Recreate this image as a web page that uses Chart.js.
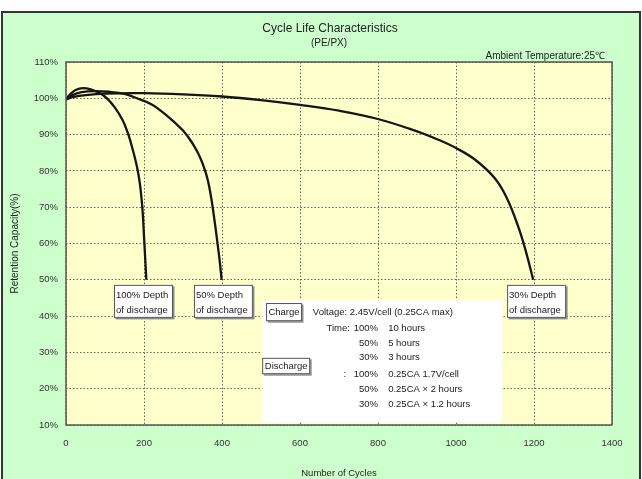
<!DOCTYPE html>
<html>
<head>
<meta charset="utf-8">
<script src="https://cdn.jsdelivr.net/npm/chart.js@4.4.1/dist/chart.umd.min.js"></script>
<style>
  html, body { margin: 0; padding: 0; background: #fff; }
</style>
</head>
<body>
<canvas id="cycleChart" width="642" height="479"></canvas>
<script>
// Curves: number of cycles vs retention capacity (%)
const cyclesDod100 = [0, 10, 25, 44, 65, 85, 105, 125, 145, 160, 170, 178, 185, 190, 194, 197, 200, 203, 206];
const retentionDod100 = [99.7, 101, 102.3, 102.8, 102.4, 101.5, 100, 97.5, 94, 90, 86.3, 83, 79.5, 76, 72, 68, 62, 56, 50];

const cyclesDod50 = [0, 15, 40, 74, 110, 150, 182, 220, 250, 280, 300, 320, 335, 345, 353, 360, 367, 374, 381, 388, 394, 399];
const retentionDod50 = [99.7, 100.8, 101.7, 102, 101.8, 101.2, 100, 98.3, 96, 93.2, 91.1, 88.3, 85.6, 83.4, 81.2, 78.9, 75.8, 71.5, 66.2, 60.5, 55.3, 50];

const cyclesDod30 = [0, 20, 50, 100, 200, 300, 400, 500, 600, 700, 800, 900, 950, 1000, 1050, 1100, 1130, 1160, 1180, 1198];
const retentionDod30 = [99.7, 100.4, 100.9, 101.3, 101.4, 101.1, 100.5, 99.5, 98.2, 96.6, 94.3, 90.9, 88.8, 86.3, 83, 77.9, 72.6, 64.5, 57.5, 50];

const depthLabels = [['100% Depth', 'of discharge'], ['50% Depth', 'of discharge'], ['30% Depth', 'of discharge']];
const infoRows = [
    ['', '', 'Voltage: 2.45V/cell (0.25CA max)'],
    ['Time:', '100%', '10 hours'],
    ['', '50%', '5 hours'],
    ['', '30%', '3 hours'],
    [':', '100%', '0.25CA 1.7V/cell'],
    ['', '50%', '0.25CA \u00d7 2 hours'],
    ['', '30%', '0.25CA \u00d7 1.2 hours']
];

const FONT = '"Liberation Sans", Arial, sans-serif';

function toPoints(xs, ys) {
    return xs.map((x, i) => ({ x: x, y: ys[i] }));
}

function noteBox(ctx, x0, y0, x1, y1) {
    ctx.fillStyle = '#8a8a8a';
    ctx.fillRect(x0 + 1.5, y0 + 1.5, x1 - x0, y1 - y0);
    ctx.fillStyle = '#ffffff';
    ctx.fillRect(x0, y0, x1 - x0, y1 - y0);
    ctx.strokeStyle = '#555';
    ctx.lineWidth = 1;
    ctx.strokeRect(x0 + 0.5, y0 + 0.5, x1 - x0 - 1, y1 - y0 - 1);
}

// Backgrounds, frame, headings and the text notes inside the plot
const decorations = {
    id: 'decorations',
    beforeDraw(chart) {
        const { ctx, chartArea: a, width, height } = chart;
        ctx.save();
        ctx.fillStyle = '#ffffff';
        ctx.fillRect(0, 0, width, height);
        ctx.fillStyle = '#ccffcc';
        ctx.fillRect(3, 13, width - 6, height - 13);
        ctx.strokeStyle = '#333';
        ctx.lineWidth = 2;
        ctx.strokeRect(2, 12, width - 4, height);
        ctx.fillStyle = '#ffffcc';
        ctx.fillRect(a.left, a.top, a.width, a.height);
        ctx.restore();
    },
    afterDatasetsDraw(chart) {
        const { ctx, chartArea: a } = chart;
        const sx = chart.scales.x, sy = chart.scales.y;
        const px = v => sx.getPixelForValue(v);
        const py = v => sy.getPixelForValue(v);
        ctx.save();

        // white panel with the test conditions
        ctx.fillStyle = '#ffffff';
        ctx.fillRect(px(503), py(44.4), px(1118) - px(503), py(10.7) - py(44.4));

        ctx.font = '9.5px ' + FONT;
        ctx.textBaseline = 'middle';

        // depth of discharge labels under each curve end
        const depthAt = [123, 328, 1131];
        depthLabels.forEach((lines, i) => {
            const x0 = px(depthAt[i]), y0 = py(48.6);
            noteBox(ctx, x0, y0, x0 + 59, y0 + 33);
            ctx.fillStyle = '#222';
            ctx.textAlign = 'left';
            ctx.fillText(lines[0], x0 + 2, y0 + 10);
            ctx.fillText(lines[1], x0 + 2, y0 + 25);
        });

        // Charge / Discharge tags
        noteBox(ctx, px(513), py(43.6), px(605), py(38.6));
        noteBox(ctx, px(503), py(28.5), px(626), py(24.0));
        ctx.fillStyle = '#222';
        ctx.textAlign = 'center';
        ctx.fillText('Charge', (px(513) + px(605)) / 2, (py(43.6) + py(38.6)) / 2);
        ctx.fillText('Discharge', (px(503) + px(626)) / 2, (py(28.5) + py(24.0)) / 2);

        const rowY = [41.1, 36.7, 32.6, 28.7, 24.0, 19.9, 15.8];
        infoRows.forEach((r, i) => {
            const y = py(rowY[i]);
            if (i === 0) {
                ctx.textAlign = 'left';
                ctx.fillText(r[2], px(633), y);
                return;
            }
            ctx.textAlign = 'right';
            if (r[0]) ctx.fillText(r[0], r[0] === ':' ? px(718) : px(728), y);
            ctx.fillText(r[1], px(800), y);
            ctx.textAlign = 'left';
            ctx.fillText(r[2], px(826), y);
        });

        // plot frame
        ctx.strokeStyle = '#555';
        ctx.lineWidth = 1.5;
        ctx.strokeRect(a.left, a.top, a.width, a.height);
        ctx.restore();
    },
    afterDraw(chart) {
        const { ctx, chartArea: a } = chart;
        ctx.save();
        ctx.fillStyle = '#222';
        ctx.textBaseline = 'middle';
        ctx.textAlign = 'center';
        ctx.font = '12px ' + FONT;
        ctx.fillText('Cycle Life Characteristics', 330, 29);
        ctx.font = '10px ' + FONT;
        ctx.fillText('(PE/PX)', 329, 43);
        ctx.textAlign = 'right';
        ctx.fillText('Ambient Temperature:25\u2103', a.right - 7, 56);
        ctx.restore();
    }
};

const curveStyle = {
    borderColor: '#151515',
    borderWidth: 2.3,
    pointRadius: 0,
    fill: false,
    tension: 0.4
};

const ctx = document.getElementById('cycleChart').getContext('2d');

new Chart(ctx, {
    type: 'line',
    data: {
        datasets: [
            Object.assign({ label: '100% Depth of discharge', data: toPoints(cyclesDod100, retentionDod100) }, curveStyle),
            Object.assign({ label: '50% Depth of discharge', data: toPoints(cyclesDod50, retentionDod50) }, curveStyle),
            Object.assign({ label: '30% Depth of discharge', data: toPoints(cyclesDod30, retentionDod30) }, curveStyle)
        ]
    },
    options: {
        responsive: false,
        animation: false,
        layout: {
            padding: { left: 0, right: 30, top: 62, bottom: 0 }
        },
        plugins: {
            legend: { display: false },
            tooltip: { enabled: false }
        },
        scales: {
            x: {
                type: 'linear',
                min: 0,
                max: 1400,
                afterFit(scale) { scale.height = 54; },
                ticks: {
                    stepSize: 200,
                    padding: 13,
                    maxRotation: 0,
                    color: '#333',
                    font: { family: FONT, size: 9.5 },
                    callback: v => String(v)
                },
                grid: { color: '#666', lineWidth: 1, drawTicks: false },
                border: { display: false, dash: [1.5, 2] },
                title: {
                    display: true,
                    text: 'Number of Cycles',
                    color: '#222',
                    font: { family: FONT, size: 9.5 },
                    padding: { top: 0, bottom: 0 }
                }
            },
            y: {
                min: 10,
                max: 110,
                afterFit(scale) { scale.width = 66; },
                ticks: {
                    stepSize: 10,
                    padding: 8,
                    color: '#333',
                    font: { family: FONT, size: 9.5 },
                    callback: v => v + '%'
                },
                grid: { color: '#666', lineWidth: 1, drawTicks: false },
                border: { display: false, dash: [1.5, 2] },
                title: {
                    display: true,
                    text: 'Retention Capacity(%)',
                    color: '#222',
                    font: { family: FONT, size: 10 },
                    padding: { top: 9, bottom: 0 }
                }
            }
        }
    },
    plugins: [decorations]
});
</script>
</body>
</html>
